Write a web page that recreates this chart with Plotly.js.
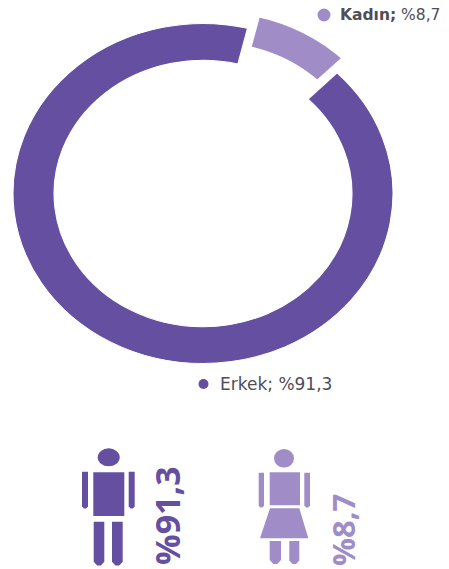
<!DOCTYPE html>
<html>
<head>
<meta charset="utf-8">
<script src="https://cdn.plot.ly/plotly-3.0.1.min.js"></script>
<style>html,body{margin:0;padding:0;background:#fff}</style>
</head>
<body>
<div id="chart" style="width:449px;height:569px"></div>
<script>
// Gender split shown as an oval ring, with pictogram figures underneath.
const categories = ['Kadın', 'Erkek'];
const shares = [8.7, 91.3];
const shareLabels = ['%8,7', '%91,3'];
const colors = ['#a08dc7', '#654fa0'];
const textGrey = '#4f4d57';

const W = 449, H = 569;

// Ring placement: centre, and half-widths of the final oval.
const ringCx = 203, ringCy = 193.5, ringRx = 190, ringRy = 170;
const domainHalf = 190, pullOut = 0.1;

function box(x0, y0, x1, y1, color) {
  return {type: 'rect', xref: 'x', yref: 'y', x0, y0, x1, y1, fillcolor: color, line: {width: 0}, layer: 'above'};
}
function oval(cx, cy, rx, ry, color) {
  return {type: 'circle', xref: 'x', yref: 'y', x0: cx - rx, x1: cx + rx, y0: cy - ry, y1: cy + ry,
          fillcolor: color, line: {width: 0}, layer: 'above'};
}
function outline(d, color) {
  return {type: 'path', xref: 'x', yref: 'y', path: d, fillcolor: color, line: {width: 0}, layer: 'above'};
}
function limb(x0, x1, y0, y1, color) {
  const m = (x0 + x1) / 2, t = (x1 - x0) * 0.35;
  return outline(`M${x0},${y0} L${x1},${y0} L${x1},${y1 - t} L${m + t / 2},${y1} L${m - t / 2},${y1} L${x0},${y1 - t} Z`, color);
}

const man = colors[1], woman = colors[0];
const shapes = [
  // man
  oval(108.7, 457.3, 11, 9, man),
  box(93.3, 472.3, 124.3, 516, man),
  limb(82, 88, 471.7, 508.5, man),
  limb(128.7, 134.7, 471.7, 508.5, man),
  limb(93.7, 104.3, 521.7, 565.5, man),
  limb(112, 122.7, 521.7, 565.5, man),
  // woman
  oval(284, 458.3, 10, 9.3, woman),
  box(269.7, 472.3, 300, 505.3, woman),
  limb(258.7, 264, 472.7, 507.5, woman),
  limb(304.3, 310, 472.7, 507.5, woman),
  outline('M270,508.3 L299.3,508.3 L308.3,538.3 L260,538.3 Z', woman),
  limb(269.7, 281, 541, 564, woman),
  limb(289.3, 299.3, 541, 564, woman),
  // legend dots
  oval(324, 15, 6.5, 6.5, colors[0]),
  oval(203.5, 384, 5, 5, colors[1])
];

function note(x, y, text, size, color, family, extra) {
  return Object.assign({xref: 'x', yref: 'y', x, y, text, showarrow: false,
    font: {family, size, color}}, extra || {});
}

const sans = '"DejaVu Sans", sans-serif', heavy = '"Open Sans", sans-serif';
const annotations = [
  note(338, 15, `<b>${categories[0]};</b> ${shareLabels[0]}`, 15.5, textGrey, sans, {xanchor: 'left'}),
  note(218, 384, `${categories[1]}; ${shareLabels[1]}`, 17, textGrey, sans, {xanchor: 'left'}),
  note(167, 516, `<b>${shareLabels[1]}</b>`, 34, colors[1], heavy, {textangle: -90}),
  note(343, 530, `<b>${shareLabels[0]}</b>`, 31, colors[0], heavy, {textangle: -90})
];

const ring = {
  type: 'pie',
  labels: categories,
  values: shares,
  sort: false,
  direction: 'clockwise',
  rotation: 13.55,
  hole: 0.784,
  pull: [pullOut, 0],
  textinfo: 'none',
  hoverinfo: 'label+percent',
  marker: {colors, line: {color: '#ffffff', width: [7, 1]}},
  domain: {
    x: [(ringCx - domainHalf) / W, (ringCx + domainHalf) / W],
    y: [1 - (ringCy + domainHalf) / H, 1 - (ringCy - domainHalf) / H]
  }
};

// Invisible axes give the pictograms and labels a pixel coordinate system.
const hiddenAxis = {visible: false, fixedrange: true};
const layout = {
  width: W, height: H,
  margin: {l: 0, r: 0, t: 0, b: 0},
  paper_bgcolor: '#ffffff',
  plot_bgcolor: 'rgba(0,0,0,0)',
  showlegend: false,
  xaxis: Object.assign({range: [0, W]}, hiddenAxis),
  yaxis: Object.assign({range: [H, 0]}, hiddenAxis),
  shapes, annotations
};

const anchor = {type: 'scatter', x: [0, W], y: [0, H], mode: 'none', hoverinfo: 'skip'};
Plotly.newPlot('chart', [anchor, ring], layout, {displayModeBar: false, staticPlot: true}).then(gd => {
  // Pies are always circular, so the finished layer is stretched into the oval.
  const base = domainHalf / (1 + pullOut);
  const sx = ringRx / base, sy = ringRy / base;
  gd.querySelector('.pielayer').setAttribute('transform',
    `translate(${ringCx},${ringCy}) scale(${sx},${sy}) translate(${-ringCx},${-ringCy})`);
});
</script>
</body>
</html>
